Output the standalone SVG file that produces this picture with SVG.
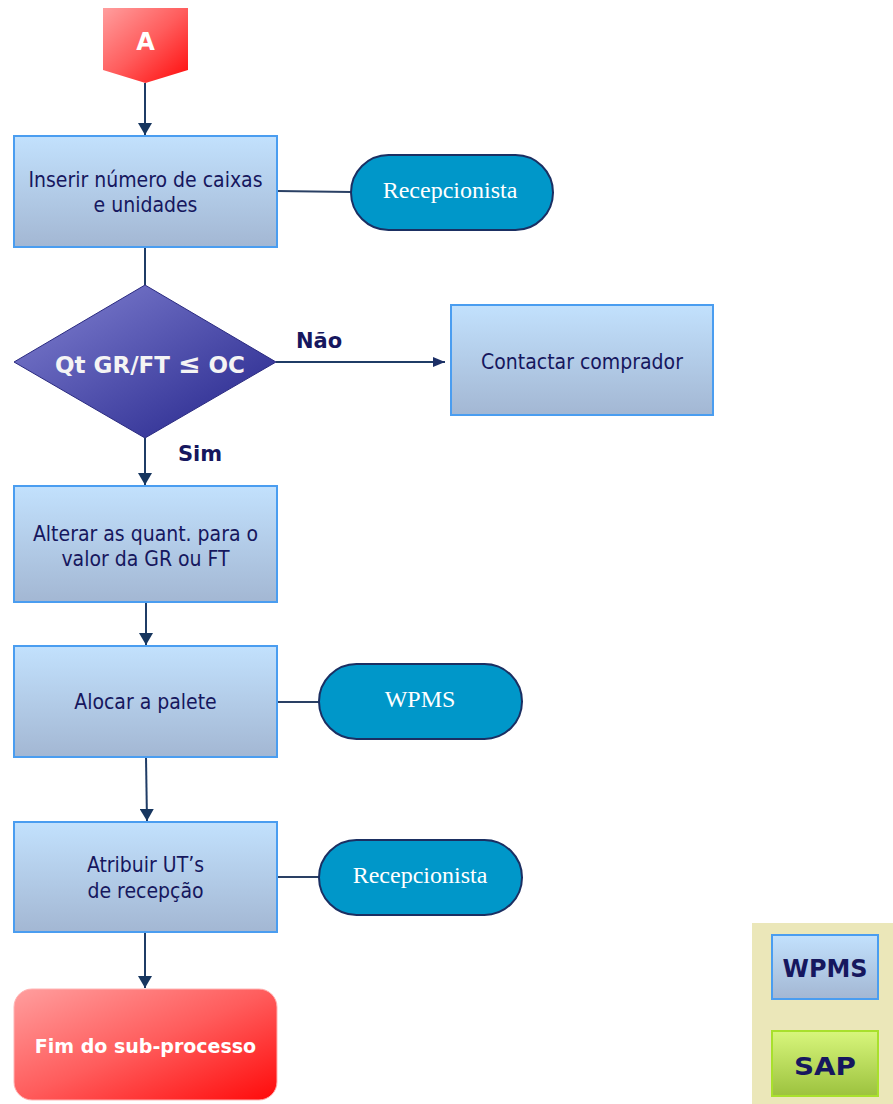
<svg xmlns="http://www.w3.org/2000/svg" width="893" height="1104" viewBox="0 0 893 1104">
  <defs>
    <linearGradient id="boxGrad" x1="0" y1="0" x2="0" y2="1">
      <stop offset="0" stop-color="#c2e1fd"/>
      <stop offset="1" stop-color="#a3b7d3"/>
    </linearGradient>
    <linearGradient id="diamondGrad" x1="0" y1="0" x2="1" y2="1">
      <stop offset="0" stop-color="#8282d2"/>
      <stop offset="1" stop-color="#23238a"/>
    </linearGradient>
    <linearGradient id="redGrad" x1="0" y1="0" x2="1" y2="1">
      <stop offset="0" stop-color="#ff9e9e"/>
      <stop offset="0.5" stop-color="#ff5c5c"/>
      <stop offset="1" stop-color="#ff0a0a"/>
    </linearGradient>
    <linearGradient id="greenGrad" x1="0" y1="0" x2="0" y2="1">
      <stop offset="0" stop-color="#d8f67c"/>
      <stop offset="1" stop-color="#9cc23e"/>
    </linearGradient>
    <marker id="arrow" viewBox="0 0 12 14" refX="12" refY="7" markerWidth="12" markerHeight="14" markerUnits="userSpaceOnUse" orient="auto">
      <path d="M0,0 L12,7 L0,14 Z" fill="#17365f"/>
    </marker>
    <marker id="arrowSmall" viewBox="0 0 12 10" refX="12" refY="5" markerWidth="12" markerHeight="10" markerUnits="userSpaceOnUse" orient="auto">
      <path d="M0,0 L12,5 L0,10 Z" fill="#1c2f66"/>
    </marker>
    <style>
      .box { fill: url(#boxGrad); stroke: #4a9df0; stroke-width: 2; }
      .pill { fill: #0097c9; stroke: #1b2f62; stroke-width: 2; }
      .lbl { font-family: "DejaVu Sans Condensed", "DejaVu Sans", sans-serif; font-size: 21px; fill: #16175e; text-anchor: middle; }
      .pillTxt { font-family: "Liberation Serif", serif; font-size: 24px; fill: #ffffff; text-anchor: middle; }
      .bold { font-family: "DejaVu Sans", sans-serif; font-weight: bold; text-anchor: middle; }
      .flow { stroke: #1f3c66; stroke-width: 2; fill: none; }
      .link { stroke: #2a4064; stroke-width: 2; fill: none; }
    </style>
  </defs>

  <rect width="893" height="1104" fill="#ffffff"/>

  <!-- connectors -->
  <g id="connectors">
    <line class="flow" x1="145" y1="83" x2="145" y2="135" marker-end="url(#arrow)"/>
    <line class="link" x1="277" y1="191" x2="351" y2="192"/>
    <line class="flow" x1="145" y1="247" x2="145" y2="285"/>
    <line class="flow" x1="276" y1="362" x2="445" y2="362" stroke="#1c2f66" marker-end="url(#arrowSmall)"/>
    <line class="flow" x1="145" y1="438" x2="145" y2="485" stroke="#1a1a66" marker-end="url(#arrow)"/>
    <line class="flow" x1="146" y1="602" x2="146" y2="645" marker-end="url(#arrow)"/>
    <line class="link" x1="277" y1="702" x2="319" y2="702"/>
    <line class="flow" x1="146" y1="757" x2="147" y2="821" marker-end="url(#arrow)"/>
    <line class="link" x1="277" y1="877" x2="319" y2="877"/>
    <line class="flow" x1="145" y1="932" x2="145" y2="988" marker-end="url(#arrow)"/>
    <text x="319" y="348" class="bold" font-size="21" fill="#16175e">Não</text>
    <text x="200" y="461" class="bold" font-size="21" fill="#16175e">Sim</text>
  </g>

  <!-- start connector A -->
  <g id="start">
    <path d="M103,8 L188,8 L188,70 L145.5,83 L103,70 Z" fill="url(#redGrad)"/>
    <text x="145.5" y="50" class="bold" font-size="24" fill="#ffffff">A</text>
  </g>

  <g id="inserir">
    <rect class="box" x="14" y="136" width="263" height="111"/>
    <text class="lbl" x="145.5" y="187">Inserir número de caixas</text>
    <text class="lbl" x="145.5" y="212">e unidades</text>
  </g>

  <g id="recepcionista1">
    <rect class="pill" x="351" y="155" width="202" height="75" rx="37.5"/>
    <text class="pillTxt" x="450" y="198">Recepcionista</text>
  </g>

  <g id="decisao">
    <path d="M145,285 L276,362 L145,438 L14,362 Z" fill="url(#diamondGrad)" stroke="#2a2a80" stroke-width="1"/>
    <text x="150" y="373" class="bold" font-size="23" fill="#f4f4f4">Qt GR/FT <tspan font-size="27">≤</tspan>  OC</text>
  </g>

  <g id="contactar">
    <rect class="box" x="451" y="305" width="262" height="110"/>
    <text class="lbl" x="582" y="369">Contactar comprador</text>
  </g>

  <g id="alterar">
    <rect class="box" x="14" y="486" width="263" height="116"/>
    <text class="lbl" x="145.5" y="541">Alterar as quant. para o</text>
    <text class="lbl" x="145.5" y="566">valor da GR ou FT</text>
  </g>

  <g id="alocar">
    <rect class="box" x="14" y="646" width="263" height="111"/>
    <text class="lbl" x="145.5" y="709">Alocar a palete</text>
  </g>

  <g id="wpms">
    <rect class="pill" x="319" y="664" width="203" height="75" rx="37.5"/>
    <text class="pillTxt" x="420" y="707">WPMS</text>
  </g>

  <g id="atribuir">
    <rect class="box" x="14" y="822" width="263" height="110"/>
    <text class="lbl" x="145.5" y="872">Atribuir UT’s</text>
    <text class="lbl" x="145.5" y="898">de recepção</text>
  </g>

  <g id="recepcionista2">
    <rect class="pill" x="319" y="840" width="203" height="75" rx="37.5"/>
    <text class="pillTxt" x="420" y="883">Recepcionista</text>
  </g>

  <g id="fim">
    <rect x="14" y="989" width="263" height="111" rx="18" fill="url(#redGrad)" stroke="#ffb4b4" stroke-width="1"/>
    <text x="145.5" y="1053" class="bold" font-size="19" fill="#ffffff">Fim do sub-processo</text>
  </g>

  <!-- legend -->
  <g id="legenda">
    <rect x="752" y="923" width="141" height="181" fill="#ebe7b9"/>
    <rect x="772" y="935" width="106" height="64" fill="url(#boxGrad)" stroke="#4a9df0" stroke-width="2"/>
    <text x="825" y="977" class="bold" font-size="24" fill="#16175e" textLength="85" lengthAdjust="spacingAndGlyphs">WPMS</text>
    <rect x="772" y="1031" width="106" height="65" fill="url(#greenGrad)" stroke="#a8e02c" stroke-width="2"/>
    <text x="825" y="1075" class="bold" font-size="24" fill="#16175e" textLength="62" lengthAdjust="spacingAndGlyphs">SAP</text>
  </g>
</svg>
